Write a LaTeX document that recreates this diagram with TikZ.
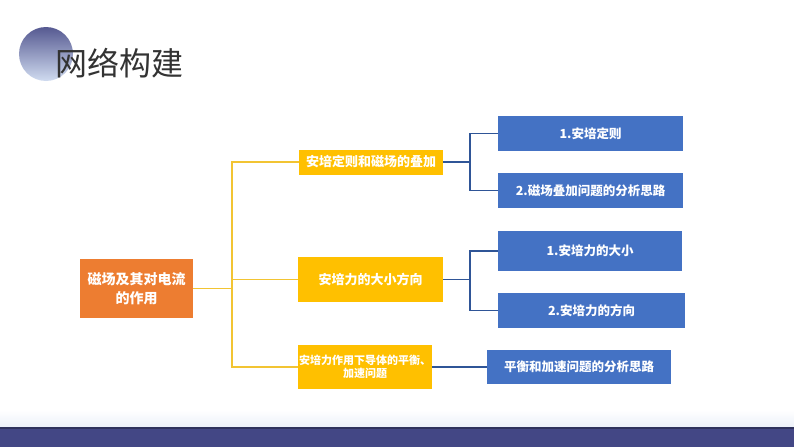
\documentclass[tikz,border=0pt]{standalone}
\usepackage{fontspec}
\newfontfamily\cjk{Noto Sans CJK SC}
\definecolor{rootorange}{HTML}{ED7D31}
\definecolor{midyellow}{HTML}{FFC000}
\definecolor{leafblue}{HTML}{4472C4}
\definecolor{goldline}{HTML}{F2C433}
\definecolor{blueline}{HTML}{2F5597}
\definecolor{barblue}{HTML}{434785}
\tikzset{
  rootbox/.style={fill=rootorange, text=white, align=center, inner sep=0pt,
    font=\cjk\bfseries\fontsize{14}{19}\selectfont},
  midbox/.style={fill=midyellow, text=white, align=center, inner sep=0pt,
    font=\cjk\bfseries\fontsize{13}{15}\selectfont},
  leafbox/.style={fill=leafblue, text=white, align=center, inner sep=0pt,
    font=\cjk\bfseries\fontsize{12.5}{15}\selectfont},
  goldwire/.style={draw=goldline, line width=1.6pt},
  bluewire/.style={draw=blueline, line width=1.5pt}
}
\begin{document}
\begin{tikzpicture}[x=1pt,y=-1pt]
  \useasboundingbox (0,0) rectangle (794,447);

  % Title
  \shade[top color=barblue!90, bottom color=leafblue!25] (46,54) circle (27);
  \node[anchor=west, text=black!80, font=\cjk\fontsize{32}{36}\selectfont] (title) at (52,63) {网络构建};

  % Bottom bar
  \shade[top color=white, bottom color=leafblue!10] (0,410) rectangle (794,427);
  \fill[barblue!70!black] (0,427) rectangle (794,429);
  \fill[barblue] (0,429) rectangle (794,447);

  % Root
  \node[rootbox, minimum width=113, minimum height=59] (root) at (136.5,288.5) {磁场及其对电流\\的作用};

  % Middle level
  \node[midbox, minimum width=144, minimum height=25] (m1) at (371,162) {安培定则和磁场的叠加};
  \node[midbox, minimum width=145, minimum height=45] (m2) at (370.5,279.5) {安培力的大小方向};
  \node[midbox, minimum width=134, minimum height=44, font=\cjk\bfseries\fontsize{11}{13}\selectfont] (m3) at (365,367) {安培力作用下导体的平衡、\\加速问题};

  % Leaves
  \node[leafbox, minimum width=185, minimum height=35] (l1) at (590.5,133.5) {1.安培定则};
  \node[leafbox, minimum width=185, minimum height=35] (l2) at (590.5,190.5) {2.磁场叠加问题的分析思路};
  \node[leafbox, minimum width=184, minimum height=40] (l3) at (590,251) {1.安培力的大小};
  \node[leafbox, minimum width=187, minimum height=35] (l4) at (591.5,310.5) {2.安培力的方向};
  \node[leafbox, minimum width=184, minimum height=34] (l5) at (579,367) {平衡和加速问题的分析思路};

  % Connectors
  \coordinate (j0) at (232,288.5);
  \coordinate (j1) at (470,162);
  \coordinate (j2) at (470,279.5);
  \draw[goldwire] (root.east) -- (j0) |- (m1.west);
  \draw[goldwire] (j0) |- (m2.west);
  \draw[goldwire] (j0) |- (m3.west);
  \draw[bluewire] (m1.east) -- (j1) |- (l1.west);
  \draw[bluewire] (j1) |- (l2.west);
  \draw[bluewire] (m2.east) -- (j2) |- (l3.west);
  \draw[bluewire] (j2) |- (l4.west);
  \draw[bluewire] (m3.east) -- (l5.west);
\end{tikzpicture}
\end{document}
